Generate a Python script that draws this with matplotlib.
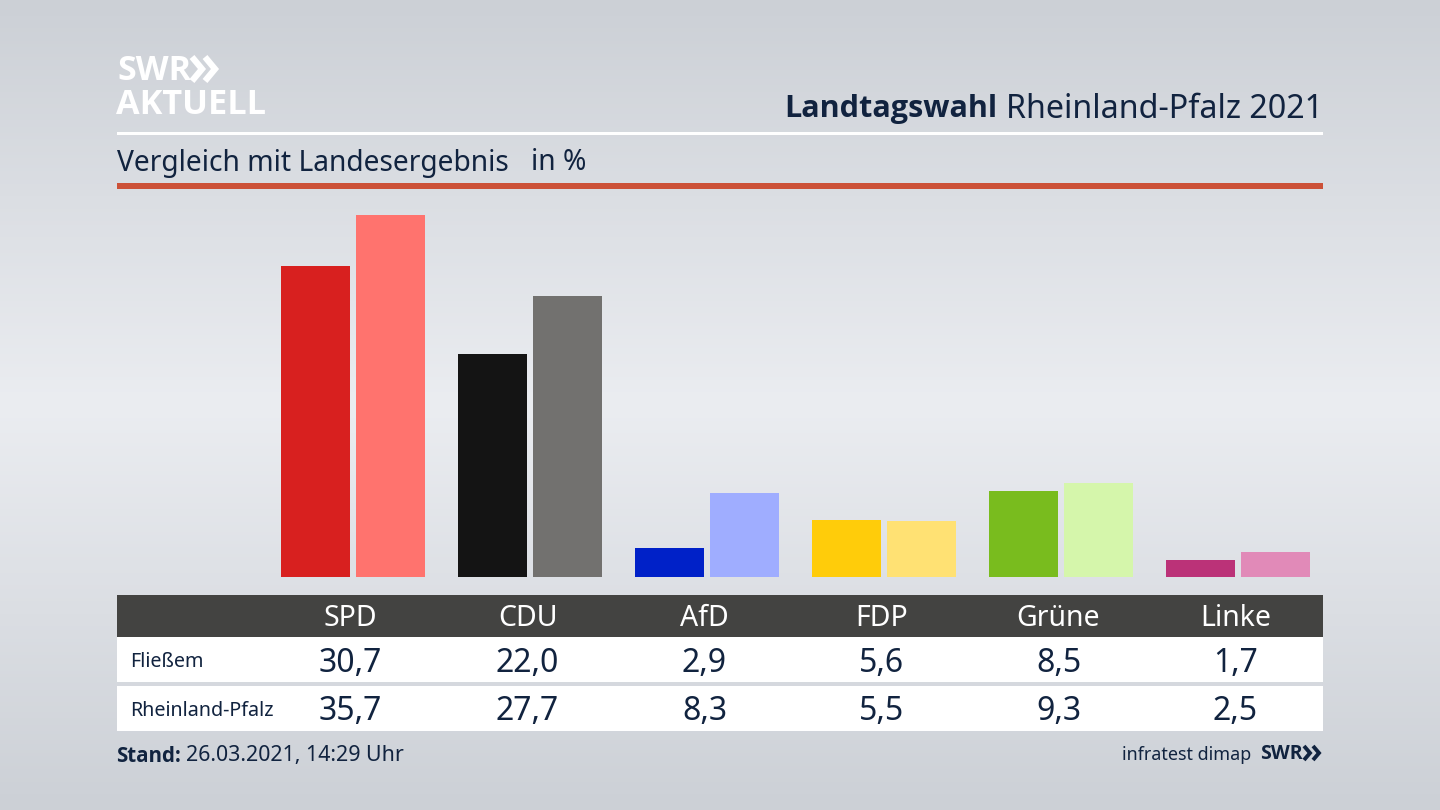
import matplotlib
matplotlib.use("Agg")
import matplotlib.pyplot as plt
import numpy as np
from matplotlib.colors import LinearSegmentedColormap
from matplotlib.patches import Rectangle

# ── Data ─────────────────────────────────────────────────────────────────────
parties = ["SPD", "CDU", "AfD", "FDP", "Grüne", "Linke"]
fliessem = [30.7, 22.0, 2.9, 5.6, 8.5, 1.7]
rlp = [35.7, 27.7, 8.3, 5.5, 9.3, 2.5]
colors_local = ["#d8201f", "#141414", "#0021c8", "#ffcc0a", "#79bc1e", "#bb3278"]
colors_state = ["#ff736e", "#72716f", "#9fadff", "#ffe173", "#d5f6ab", "#e18ab8"]
row_labels = ["Fließem", "Rheinland-Pfalz"]

NAVY = "#11233f"
BOLD = ["Open Sans", "DejaVu Sans"]
plt.rcParams["font.family"] = ["Noto Sans", "DejaVu Sans"]

fig = plt.figure(figsize=(14.4, 8.1), dpi=100)

# ── Background + frame, in pixel coordinates ─────────────────────────────────
bg = fig.add_axes([0, 0, 1, 1])
bg.set_xlim(0, 1440)
bg.set_ylim(810, 0)
bg.axis("off")
cmap = LinearSegmentedColormap.from_list("bg", ["#ccd0d6", "#ebedf1", "#ccd0d6"])
bg.imshow(np.linspace(0, 1, 256).reshape(-1, 1), cmap=cmap, aspect="auto",
          extent=[0, 1440, 810, 0], zorder=0)

bg.add_patch(Rectangle((117, 132), 1206, 3, color="white", lw=0))
bg.add_patch(Rectangle((117, 183), 1206, 6, color="#cc5138", lw=0))
bg.add_patch(Rectangle((117, 595), 1206, 42, color="#434341", lw=0))
bg.add_patch(Rectangle((117, 637), 1206, 45, color="white", lw=0))
bg.add_patch(Rectangle((117, 686), 1206, 45, color="white", lw=0))

# logo
bg.text(117, 71, "SWR", color="white", fontsize=24.5, fontweight="bold", family=BOLD, va="center", ha="left")
bg.text(116, 105, "AKTUELL", color="white", fontsize=24.7, fontweight="bold", family=BOLD, va="center", ha="left")
for x0, col, w, h, lw in [(192, "white", 10, 12, 4.5), (205, "white", 10, 12, 4.5),
                          (1304, NAVY, 6, 7, 2.8), (1313, NAVY, 6, 7, 2.8)]:
    yc = 69 if col == "white" else 753
    bg.plot([x0, x0 + w, x0], [yc - h, yc, yc + h], color=col, lw=lw,
            solid_joinstyle="miter", solid_capstyle="butt")

# heading
bg.text(1323, 109, "Rheinland-Pfalz 2021", color=NAVY, fontsize=23.2, va="center", ha="right")
bg.text(997, 109, "Landtagswahl", color=NAVY, fontsize=22.1, fontweight="bold", family=BOLD, va="center", ha="right")
bg.text(117, 163, "Vergleich mit Landesergebnis", color=NAVY, fontsize=20.3, va="center", ha="left")
bg.text(531, 163, "in %", color=NAVY, fontsize=20.3, va="center", ha="left")

# table
table_x = [350.5 + 177 * i for i in range(len(parties))]
for x, party, a, b in zip(table_x, parties, fliessem, rlp):
    bg.text(x, 618, party, color="white", fontsize=20.5, va="center", ha="center")
    bg.text(x, 663, f"{a:.1f}".replace(".", ","), color=NAVY, fontsize=23, va="center", ha="center")
    bg.text(x, 712, f"{b:.1f}".replace(".", ","), color=NAVY, fontsize=23, va="center", ha="center")
bg.text(130, 662, row_labels[0], color=NAVY, fontsize=14.2, va="center", ha="left")
bg.text(130, 711, row_labels[1], color=NAVY, fontsize=14.2, va="center", ha="left")

# footer
bg.text(116, 756, "Stand:", color=NAVY, fontsize=14.8, fontweight="bold", family=BOLD, va="center", ha="left")
bg.text(186, 756, "26.03.2021, 14:29 Uhr", color=NAVY, fontsize=15.4, va="center", ha="left")
bg.text(1251, 755, "infratest dimap", color=NAVY, fontsize=12.9, va="center", ha="right")
bg.text(1303, 754, "SWR", color=NAVY, fontsize=14, fontweight="bold", family=BOLD, va="center", ha="right")

# ── Bars ─────────────────────────────────────────────────────────────────────
ax = fig.add_axes([117 / 1440, (810 - 577) / 810, 1206 / 1440, 388 / 810])
ax.patch.set_alpha(0)
x = np.arange(len(parties))
ax.bar(x - 0.212, fliessem, width=0.39, color=colors_local)
ax.bar(x + 0.212, rlp, width=0.39, color=colors_state)
ax.set_xlim(-1.333, 5.48)
ax.set_ylim(0, 38.26)
ax.axis("off")

fig.savefig("out.png", dpi=100)
